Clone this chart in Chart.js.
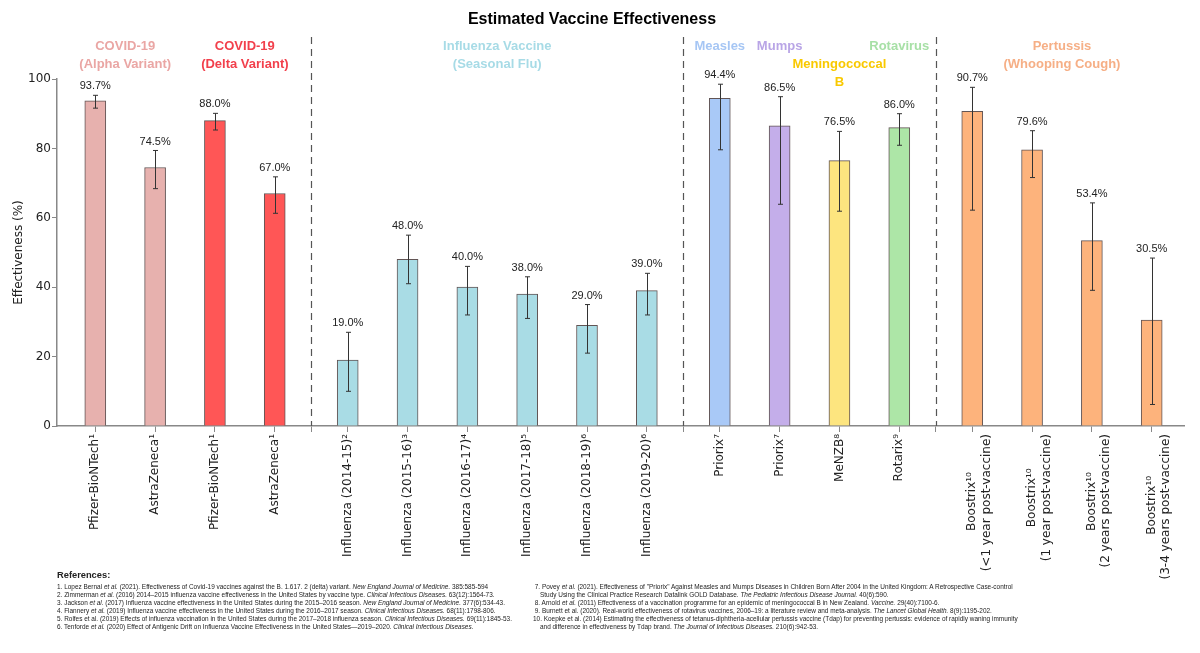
<!DOCTYPE html>
<html>
<head>
<meta charset="utf-8">
<script src="https://cdn.jsdelivr.net/npm/chart.js@4/dist/chart.umd.min.js"></script>
<style>
	body { margin: 0; background: #fff; }
	#wrap { position: relative; width: 1200px; height: 653px; }
	#refs { position: absolute; left: 0; top: 0; font-family: "Liberation Sans", Arial, sans-serif; color: #222; }
	#refs .head { position: absolute; left: 57px; top: 570px; font-size: 9.3px; font-weight: bold; white-space: nowrap; }
	#refs .col { position: absolute; top: 583px; font-size: 6.45px; line-height: 8px; white-space: nowrap; }
	#refs .cont { padding-left: 7px; }
</style>
</head>
<body>
<div id="wrap">
	<canvas id="vaccineChart" width="1200" height="653"></canvas>
	<div id="refs">
		<div class="head">References:</div>
		<div class="col" style="left:57px">
			<div>1. Lopez Bernal <i>et al.</i> (2021). Effectiveness of Covid-19 vaccines against the B. 1.617. 2 (delta) variant. <i>New England Journal of Medicine.</i> 385:585-594</div>
			<div>2. Zimmerman <i>et al.</i> (2016) 2014–2015 influenza vaccine effectiveness in the United States by vaccine type. <i>Clinical Infectious Diseases.</i> 63(12):1564-73.</div>
			<div>3. Jackson <i>et al.</i> (2017) Influenza vaccine effectiveness in the United States during the 2015–2016 season. <i>New England Journal of Medicine.</i> 377(6):534-43.</div>
			<div>4. Flannery <i>et al.</i> (2019) Influenza vaccine effectiveness in the United States during the 2016–2017 season. <i>Clinical Infectious Diseases.</i> 68(11):1798-806.</div>
			<div>5. Rolfes et al. (2019) Effects of influenza vaccination in the United States during the 2017–2018 influenza season. <i>Clinical Infectious Diseases.</i> 69(11):1845-53.</div>
			<div>6. Tenforde <i>et al.</i> (2020) Effect of Antigenic Drift on Influenza Vaccine Effectiveness in the United States—2019–2020. <i>Clinical Infectious Diseases.</i></div>
		</div>
		<div class="col" style="left:533px">
			<div>&nbsp;7. Povey <i>et al.</i> (2021). Effectiveness of "Priorix" Against Measles and Mumps Diseases in Children Born After 2004 in the United Kingdom: A Retrospective Case-control</div>
			<div class="cont">Study Using the Clinical Practice Research Datalink GOLD Database. <i>The Pediatric Infectious Disease Journal.</i> 40(6):590.</div>
			<div>&nbsp;8. Arnold <i>et al.</i> (2011) Effectiveness of a vaccination programme for an epidemic of meningococcal B in New Zealand. <i>Vaccine.</i> 29(40):7100-6.</div>
			<div>&nbsp;9. Burnett et al. (2020). Real-world effectiveness of rotavirus vaccines, 2006–19: a literature review and meta-analysis. <i>The Lancet Global Health.</i> 8(9):1195-202.</div>
			<div>10. Koepke et al. (2014) Estimating the effectiveness of tetanus-diphtheria-acellular pertussis vaccine (Tdap) for preventing pertussis: evidence of rapidly waning immunity</div>
			<div class="cont">and difference in effectiveness by Tdap brand. <i>The Journal of Infectious Diseases.</i> 210(6):942-53.</div>
		</div>
	</div>
</div>
<script>
// Bar labels (x axis), multi-line where the original wraps
const barLabels = [
	["Pfizer-BioNTech¹"], ["AstraZeneca¹"], ["Pfizer-BioNTech¹"], ["AstraZeneca¹"],
	["Influenza (2014-15)²"], ["Influenza (2015-16)³"], ["Influenza (2016-17)⁴"],
	["Influenza (2017-18)⁵"], ["Influenza (2018-19)⁶"], ["Influenza (2019-20)⁶"],
	["Priorix⁷"], ["Priorix⁷"], ["MeNZB⁸"], ["Rotarix⁹"],
	["Boostrix¹⁰", "(<1 year post-vaccine)"], ["Boostrix¹⁰", "(1 year post-vaccine)"],
	["Boostrix¹⁰", "(2 years post-vaccine)"], ["Boostrix¹⁰", "(3-4 years post-vaccine)"],
];

// Which dashed-line section each bar belongs to
const barSection = [0, 0, 0, 0, 1, 1, 1, 1, 1, 1, 2, 2, 2, 2, 3, 3, 3, 3];

// Which disease (colour key) each bar belongs to
const barDisease = ["alpha", "alpha", "delta", "delta", "flu", "flu", "flu", "flu", "flu", "flu",
	"measles", "mumps", "mening", "rota", "pert", "pert", "pert", "pert"];

// Effectiveness (%) with confidence interval
const effectiveness = [93.7, 74.5, 88.0, 67.0, 19.0, 48.0, 40.0, 38.0, 29.0, 39.0, 94.4, 86.5, 76.5, 86.0, 90.7, 79.6, 53.4, 30.5];
const ciLower = [91.6, 68.4, 85.3, 61.3, 10, 41, 32, 31, 21, 32, 79.6, 63.9, 61.9, 80.9, 62.2, 71.6, 39.1, 6.2];
const ciUpper = [95.3, 79.4, 90.1, 71.8, 27, 55, 46, 43, 35, 44, 98.5, 94.9, 84.9, 90.0, 97.6, 85.1, 64.3, 48.4];

// Header text over groups of bars (empty first line pushes text down one row)
const headerText = [
	["COVID-19", "(Alpha Variant)"],
	["COVID-19", "(Delta Variant)"],
	["Influenza Vaccine", "(Seasonal Flu)"],
	["Measles"],
	["Mumps"],
	["", "Meningococcal", "B"],
	["Rotavirus"],
	["Pertussis", "(Whooping Cough)"],
];
const headerDisease = ["alpha", "delta", "flu", "measles", "mumps", "mening", "rota", "pert"];

const yTicks = [0, 20, 40, 60, 80, 100];

// Colours
const barFill = {
	alpha: "#e7b1ae", delta: "#ff5656", flu: "#a9dce5", measles: "#a9c9f7",
	mumps: "#c4aeea", mening: "#fde57f", rota: "#ade6a7", pert: "#fdb37c",
};
const headerColor = {
	alpha: "#eaa6a4", delta: "#f2404c", flu: "#a7dbe6", measles: "#a6c6f4",
	mumps: "#b9a5e6", mening: "#f9c900", rota: "#a7e0a6", pert: "#f6af86",
};

const TICK_FONT = "12px 'DejaVu Sans', sans-serif";

// x position of each bar: one unit per bar plus a bit extra at each section break
const SECTION_GAP = 0.22;
const barX = barSection.map((s, i) => i + s * SECTION_GAP);

// Divider positions halfway between sections
const dividerX = [];
for (let i = 1; i < barX.length; i++) {
	if (barSection[i] !== barSection[i - 1]) {
		dividerX.push((barX[i] + barX[i - 1]) / 2);
	}
}

// Rotated multi-line labels are right aligned by Chart.js; pad the
// shorter lines with trailing spaces so they sit centred like the original
const measureCtx = document.createElement("canvas").getContext("2d");
measureCtx.font = TICK_FONT;
function centreLines(lines) {
	if (lines.length < 2) return lines;
	const spaceW = measureCtx.measureText(" ").width;
	const widths = lines.map((l) => measureCtx.measureText(l).width);
	const maxW = Math.max(...widths);
	return lines.map((l, k) => l + " ".repeat(Math.round((maxW - widths[k]) / 2 / spaceW)));
}

// Ticks at every bar and at every divider
const tickList = barX.map((x, i) => ({ value: x, label: centreLines(barLabels[i]) }))
	.concat(dividerX.map((x) => ({ value: x, label: "" })))
	.sort((a, b) => a.value - b.value);

const errorBarPlugin = {
	id: "errorBars",
	afterDatasetsDraw(chart) {
		const ctx = chart.ctx;
		const yScale = chart.scales.y;
		const meta = chart.getDatasetMeta(0);
		ctx.save();
		ctx.strokeStyle = "#333";
		ctx.lineWidth = 1;
		ctx.fillStyle = "#222";
		ctx.font = "11px 'Liberation Sans', Arial, sans-serif";
		ctx.textAlign = "center";
		ctx.textBaseline = "middle";
		meta.data.forEach((bar, i) => {
			const x = Math.round(bar.x) + 0.5;
			const yLo = yScale.getPixelForValue(ciLower[i]);
			const yHi = yScale.getPixelForValue(ciUpper[i]);
			ctx.beginPath();
			ctx.moveTo(x, yLo);
			ctx.lineTo(x, yHi);
			ctx.moveTo(x - 2.5, yLo);
			ctx.lineTo(x + 2.5, yLo);
			ctx.moveTo(x - 2.5, yHi);
			ctx.lineTo(x + 2.5, yHi);
			ctx.stroke();
			ctx.fillText(effectiveness[i].toFixed(1) + "%", bar.x, yHi - 9);
		});
		ctx.restore();
	},
};

const headerPlugin = {
	id: "groupHeaders",
	afterDraw(chart) {
		const ctx = chart.ctx;
		const xScale = chart.scales.x;
		const area = chart.chartArea;
		ctx.save();

		// Dashed section dividers
		ctx.strokeStyle = "#555";
		ctx.lineWidth = 1.2;
		ctx.setLineDash([7, 5]);
		dividerX.forEach((v) => {
			const x = Math.round(xScale.getPixelForValue(v)) + 0.5;
			ctx.beginPath();
			ctx.moveTo(x, 37);
			ctx.lineTo(x, area.bottom);
			ctx.stroke();
		});
		ctx.setLineDash([]);

		// Group header texts, centred over their own bars
		ctx.font = "bold 13px 'Liberation Sans', Arial, sans-serif";
		ctx.textAlign = "center";
		ctx.textBaseline = "middle";
		headerText.forEach((lines, h) => {
			const key = headerDisease[h];
			const xs = [];
			barDisease.forEach((d, i) => {
				if (d === key) xs.push(barX[i]);
			});
			const mid = (Math.min(...xs) + Math.max(...xs)) / 2;
			const px = xScale.getPixelForValue(mid);
			ctx.fillStyle = headerColor[key];
			lines.forEach((line, k) => {
				ctx.fillText(line, px, 46 + k * 18);
			});
		});
		ctx.restore();
	},
};

const ctx = document.getElementById("vaccineChart").getContext("2d");

const vaccineChart = new Chart(ctx, {
	type: "bar",
	data: {
		datasets: [
			{
				data: barX.map((x, i) => ({ x: x, y: effectiveness[i] })),
				backgroundColor: barDisease.map((d) => barFill[d]),
				borderColor: "rgba(70,55,55,0.85)",
				borderWidth: 1,
				borderSkipped: "bottom",
				barThickness: 21,
			},
		],
	},
	options: {
		responsive: false,
		animation: false,
		devicePixelRatio: 1,
		layout: {
			padding: { top: 0, right: 16, bottom: 0, left: 0 },
		},
		plugins: {
			legend: { display: false },
			tooltip: { enabled: false },
			title: {
				display: true,
				text: "Estimated Vaccine Effectiveness",
				color: "#000",
				font: { family: "'Liberation Sans', Arial, sans-serif", size: 16, weight: "bold" },
				padding: { top: 10, bottom: 49.8 },
			},
		},
		scales: {
			x: {
				type: "linear",
				min: -0.64,
				max: 18.2,
				offset: false,
				grid: { offset: false, drawOnChartArea: false, drawTicks: true, tickLength: 6, color: "#888" },
				border: { color: "#888", width: 1.5 },
				afterBuildTicks: (scale) => {
					scale.ticks = tickList.map((t) => ({ value: t.value }));
				},
				afterFit: (scale) => {
					scale.height = 227;
				},
				ticks: {
					autoSkip: false,
					minRotation: 90,
					maxRotation: 90,
					padding: 2,
					color: "#222",
					font: { family: "'DejaVu Sans', sans-serif", size: 12 },
					callback: (value, index) => tickList[index].label,
				},
			},
			y: {
				min: 0,
				max: 100,
				afterBuildTicks: (scale) => {
					scale.ticks = yTicks.map((v) => ({ value: v }));
				},
				afterFit: (scale) => {
					scale.width = 57;
				},
				grid: { drawOnChartArea: false, drawTicks: true, tickLength: 5, color: "#888" },
				border: { color: "#888", width: 1.5 },
				ticks: {
					padding: 1,
					color: "#222",
					font: { family: "'DejaVu Sans', sans-serif", size: 12 },
				},
				title: {
					display: true,
					text: "Effectiveness (%)",
					color: "#222",
					font: { family: "'DejaVu Sans', sans-serif", size: 12 },
					padding: { top: 12, bottom: 0 },
				},
			},
		},
	},
	plugins: [errorBarPlugin, headerPlugin],
});
</script>
</body>
</html>
